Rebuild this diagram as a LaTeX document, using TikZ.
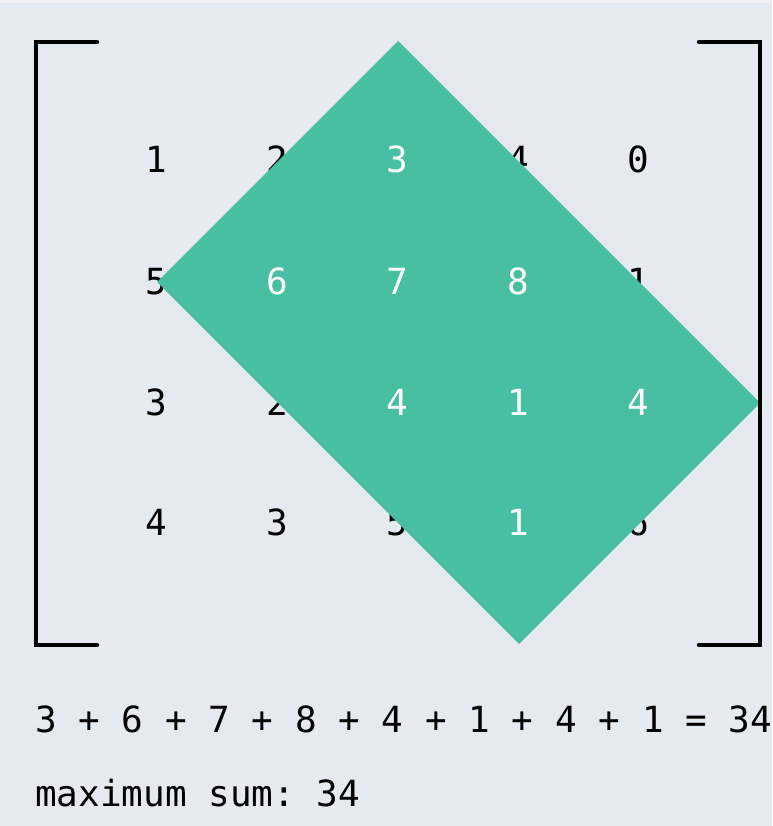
\documentclass[tikz,border=0pt]{standalone}
\usepackage{fontspec}
\setmonofont{DejaVu Sans Mono}
\definecolor{bgcol}{RGB}{229,233,240}
\definecolor{stripcol}{RGB}{240,241,244}
\definecolor{gemcol}{RGB}{72,190,163}
\begin{document}
\begin{tikzpicture}[x=1pt,y=-1pt,
  num/.style={font=\ttfamily\fontsize{36}{43}\selectfont, inner sep=0pt, anchor=base, text=black},
  hot/.style={num, text=white},
  label/.style={font=\ttfamily\fontsize{36}{43}\selectfont, inner sep=0pt, anchor=base west, text=black},
  bracket/.style={line width=4.5pt, line cap=round, line join=miter, draw=black}]
\fill[bgcol] (0,0) rectangle (772,826);
\fill[stripcol] (0,0) rectangle (772,3);
\useasboundingbox (0,0) rectangle (772,826);
% matrix values
\node[num] (a00) at (156.5,173) {1};
\node[num] (a01) at (277,173) {2};
\node[num] (a02) at (397.5,173) {3};
\node[num] (a03) at (518,173) {4};
\node[num] (a04) at (638.5,173) {0};
\node[num] (a10) at (156.5,294) {5};
\node[num] (a11) at (277,294) {6};
\node[num] (a12) at (397.5,294) {7};
\node[num] (a13) at (518,294) {8};
\node[num] (a14) at (638.5,294) {1};
\node[num] (a20) at (156.5,415) {3};
\node[num] (a21) at (277,415) {2};
\node[num] (a22) at (397.5,415) {4};
\node[num] (a23) at (518,415) {1};
\node[num] (a24) at (638.5,415) {4};
\node[num] (a30) at (156.5,535) {4};
\node[num] (a31) at (277,535) {3};
\node[num] (a32) at (397.5,535) {5};
\node[num] (a33) at (518,535) {1};
\node[num] (a34) at (638.5,535) {6};
% highlighted rotated rectangle
\coordinate (gtop) at (398,41);
\coordinate (gleft) at (157,282);
\coordinate (gbot) at (519,644);
\coordinate (gright) at (760,403);
\fill[gemcol] (gtop) -- (gleft) -- (gbot) -- (gright) -- cycle;
\node[hot] (w02) at (a02.base) {3};
\node[hot] (w11) at (a11.base) {6};
\node[hot] (w12) at (a12.base) {7};
\node[hot] (w13) at (a13.base) {8};
\node[hot] (w22) at (a22.base) {4};
\node[hot] (w23) at (a23.base) {1};
\node[hot] (w24) at (a24.base) {4};
\node[hot] (w33) at (a33.base) {1};
% brackets
\coordinate (lb1) at (97,42);
\coordinate (lb2) at (36,42);
\coordinate (lb3) at (36,645);
\coordinate (lb4) at (97,645);
\coordinate (rb1) at (699,42);
\coordinate (rb2) at (760,42);
\coordinate (rb3) at (760,645);
\coordinate (rb4) at (699,645);
\draw[bracket] (lb1) -- (lb2) -- (lb3) -- (lb4);
\draw[bracket] (rb1) -- (rb2) -- (rb3) -- (rb4);
% text lines
\node[label] (sumline) at (35,732) {3 + 6 + 7 + 8 + 4 + 1 + 4 + 1 = 34};
\node[label] (maxline) at (35,806) {maximum sum: 34};
\end{tikzpicture}
\end{document}
